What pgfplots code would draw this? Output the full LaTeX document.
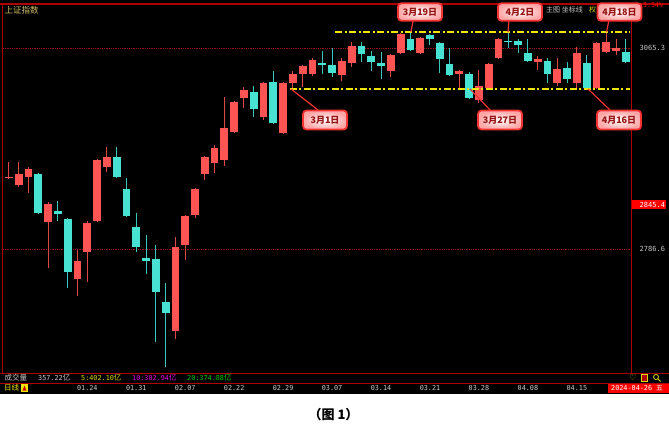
\documentclass[border=0pt]{standalone}
\usepackage{pgfplots}
\pgfplotsset{compat=1.18}
\usepackage{pgfplotstable}
\usepackage{fontspec}
\setmainfont{Noto Sans CJK SC}
\newfontfamily\cjk{Noto Sans CJK SC}
\newfontfamily\mono{DejaVu Sans Mono}
\newfontfamily\dejavu{DejaVu Sans}

\definecolor{upc}{RGB}{255,84,84}
\definecolor{dnc}{RGB}{72,226,210}
\definecolor{upw}{RGB}{225,70,70}
\definecolor{dnw}{RGB}{55,200,185}
\definecolor{framec}{RGB}{175,0,0}
\definecolor{gridc}{RGB}{150,20,20}
\definecolor{lab}{RGB}{200,200,200}
\definecolor{ylw}{RGB}{240,230,0}
\definecolor{ylw2}{RGB}{215,215,0}
\definecolor{mag}{RGB}{225,0,225}
\definecolor{grn}{RGB}{0,200,0}
\definecolor{callbd}{RGB}{245,50,50}
\definecolor{calltx}{RGB}{150,20,20}
\definecolor{gold}{RGB}{210,190,100}

% i = trading day (1 = 2024-01-12), o h l c = open high low close
\pgfplotstableread{
i o h l c
1 2884.4 2907.3 2883.7 2885.8
2 2875.4 2907.3 2872.6 2890.6
3 2886.5 2900.3 2864.3 2897.6
5 2824.1 2851.8 2760.3 2849.0
8 2745.0 2785.3 2721.5 2770.0
9 2782.5 2825.5 2740.9 2822.7
10 2825.5 2911.4 2824.1 2910.0
11 2900.3 2928.1 2893.4 2914.2
18 2672.9 2803.3 2661.8 2789.4
19 2792.2 2833.8 2771.4 2832.4
20 2833.8 2871.2 2829.6 2869.8
21 2890.6 2915.6 2882.3 2914.2
22 2905.9 2930.8 2892.0 2926.7
23 2910.0 2997.4 2901.7 2954.4
24 2948.9 2991.9 2947.5 2990.5
25 2996.0 3011.3 2982.1 3007.1
27 2969.7 3018.2 2965.5 3016.8
29 2947.5 3018.2 2946.1 3016.8
30 3016.8 3033.5 3008.5 3029.3
31 3029.3 3041.8 3011.3 3040.4
32 3029.3 3051.5 3026.5 3048.7
35 3027.9 3051.5 3019.6 3047.3
36 3044.5 3073.7 3039.0 3068.1
40 3033.5 3056.5 3025.1 3055.6
41 3058.4 3086.0 3057.0 3084.7
43 3058.4 3080.6 3057.0 3079.2
47 3029.3 3034.5 3007.1 3033.5
49 2993.2 3034.8 2989.1 3012.7
50 3009.9 3044.5 3008.5 3043.2
51 3051.5 3079.2 3050.1 3077.8
55 3045.9 3054.3 3034.8 3050.1
57 3016.8 3051.5 3012.7 3036.2
59 3016.8 3066.7 3007.1 3058.4
61 3009.9 3073.0 3009.0 3072.3
62 3059.8 3087.5 3058.4 3073.7
63 3061.2 3077.8 3055.6 3065.3
}\uptab

\pgfplotstableread{
i o h l c
4 2890.6 2891.5 2835.2 2836.6
6 2839.3 2853.2 2825.5 2835.2
7 2828.2 2829.6 2732.6 2754.7
12 2914.2 2928.1 2885.1 2886.5
13 2869.8 2885.1 2831.0 2832.4
14 2817.1 2836.6 2782.5 2789.4
15 2774.2 2806.1 2752.0 2770.0
16 2772.8 2792.2 2657.7 2727.0
17 2713.2 2739.5 2623.0 2697.9
26 3004.3 3012.7 2969.7 2980.8
28 3018.2 3033.5 2960.0 2961.4
33 3044.5 3061.2 3029.3 3041.8
34 3041.8 3065.3 3025.1 3030.7
37 3068.1 3073.7 3045.9 3057.0
38 3054.3 3061.2 3033.5 3045.9
39 3044.5 3059.8 3022.4 3040.4
42 3077.8 3087.5 3061.2 3062.6
44 3083.4 3084.7 3069.5 3077.8
45 3072.3 3073.7 3030.7 3050.1
46 3043.2 3065.3 3026.5 3027.9
48 3029.3 3032.1 2994.6 2996.0
52 3075.7 3087.5 3065.3 3074.3
53 3075.0 3077.8 3058.4 3069.5
54 3058.4 3077.8 3046.0 3047.3
56 3047.3 3051.5 3016.8 3029.3
58 3037.6 3045.9 3016.8 3022.4
60 3044.5 3055.6 3007.1 3009.9
64 3059.8 3077.8 3044.5 3045.9
}\dntab

\begin{document}
\begin{tikzpicture}
\fill[white] (0pt,0pt) rectangle (669pt,437pt);
\fill[black] (0pt,43.5pt) rectangle (669pt,437pt);

\begin{axis}[
  at={(3pt,64pt)}, anchor=south west,
  scale only axis, width=628pt, height=369pt,
  xmin=0.39, xmax=64.53, ymin=2614.7, ymax=3126.35,
  axis line style={draw=none},
  ytick=\empty,
  xtick={9,14,19,24,29,34,39,44,49,54,59},
  xticklabels={01.24,01.31,02.07,02.22,02.29,03.07,03.14,03.21,03.28,04.08,04.15},
  major tick length=0pt,
  xticklabel style={font=\mono\fontsize{6.8}{7}\selectfont, text=lab, anchor=center, yshift=-15pt, inner sep=0pt},
  clip=true,
]
% dotted grid lines
\addplot[forget plot, gridc, densely dotted, line width=0.8pt] coordinates {(0.39,3065.3) (64.53,3065.3)};
\addplot[forget plot, gridc, densely dotted, line width=0.8pt] coordinates {(0.39,2786.6) (64.53,2786.6)};
% wicks
\addplot[forget plot, draw=none, mark=none, error bars/.cd, y dir=plus, y explicit, error mark=none,
  error bar style={line width=1pt, draw=upw, solid}]
  table[x=i, y=l, y error plus expr=\thisrow{h}-\thisrow{l}] {\uptab};
\addplot[forget plot, draw=none, mark=none, error bars/.cd, y dir=plus, y explicit, error mark=none,
  error bar style={line width=1pt, draw=dnw, solid}]
  table[x=i, y=l, y error plus expr=\thisrow{h}-\thisrow{l}] {\dntab};
% bodies
\addplot[forget plot, draw=none, mark=none, error bars/.cd, y dir=plus, y explicit, error mark=none,
  error bar style={line width=7.8pt, draw=upc, solid}]
  table[x=i, y=o, y error plus expr=\thisrow{c}-\thisrow{o}] {\uptab};
\addplot[forget plot, draw=none, mark=none, error bars/.cd, y dir=plus, y explicit, error mark=none,
  error bar style={line width=7.8pt, draw=dnc, solid}]
  table[x=i, y=c, y error plus expr=\thisrow{o}-\thisrow{c}] {\dntab};
% yellow resistance / support lines
\addplot[forget plot, ylw, line width=1.6pt, dash pattern=on 7pt off 2.5pt on 2pt off 2.5pt]
  coordinates {(34.3,3087.8) (64.4,3087.8)};
\addplot[forget plot, ylw, line width=1.6pt, dash pattern=on 7pt off 2.5pt on 2pt off 2.5pt]
  coordinates {(29.7,3008.3) (64.4,3008.3)};
\end{axis}

\begin{scope}[x=1pt,y=1pt]
% frame lines
\draw[framec, line width=1.3pt] (0,433) -- (669,433);
\draw[framec, line width=1pt] (2.5,433) -- (2.5,64);
\draw[framec, line width=1pt] (631,433) -- (631,64);
\draw[framec, line width=1pt] (0,64) -- (669,64);
\draw[framec, line width=1pt] (0,54) -- (669,54);

% header texts
\node[anchor=west, text=gold, font=\cjk\fontsize{8.5}{9}\selectfont, inner sep=0pt] at (4.5,427) {上证指数};
\node[anchor=west, text=lab, font=\cjk\fontsize{7}{8}\selectfont, inner sep=0pt] at (546,427) {主图 坐标线};
\node[anchor=west, text=ylw2, font=\cjk\fontsize{7}{8}\selectfont, inner sep=0pt] at (589,427) {权};
\node[anchor=west, text=red, font=\mono\fontsize{6.5}{7}\selectfont, inner sep=0pt] at (643,431.5) {3.54\%};

% right price labels
\node[anchor=west, text=lab, font=\mono\fontsize{7}{7}\selectfont, inner sep=0pt] at (639.5,389) {3065.3};
\fill[red] (631.5,227.5) rectangle (666,236.5);
\node[anchor=west, text=white, font=\mono\fontsize{7}{7}\selectfont, inner sep=0pt] at (639.5,232) {2845.4};
\node[anchor=west, text=lab, font=\mono\fontsize{7}{7}\selectfont, inner sep=0pt] at (639.5,188) {2786.6};

% volume row
\node[anchor=west, text=lab, font=\cjk\fontsize{7.5}{8}\selectfont, inner sep=0pt] at (4.5,59) {成交量};
\node[anchor=west, text=lab, inner sep=0pt] at (38,59) {\mono\fontsize{6.8}{8}\selectfont 357.22\cjk\fontsize{7.5}{8}\selectfont 亿};
\node[anchor=west, text=ylw2, inner sep=0pt] at (81,59) {\mono\fontsize{6.8}{8}\selectfont 5:402.10\cjk\fontsize{7.5}{8}\selectfont 亿};
\node[anchor=west, text=mag, inner sep=0pt] at (132,59) {\mono\fontsize{6.8}{8}\selectfont 10:382.94\cjk\fontsize{7.5}{8}\selectfont 亿};
\node[anchor=west, text=grn, inner sep=0pt] at (187,59) {\mono\fontsize{6.8}{8}\selectfont 20:374.88\cjk\fontsize{7.5}{8}\selectfont 亿};
% small icons
\node[anchor=center, text=ylw2, font=\dejavu\fontsize{8}{8}\selectfont, inner sep=0pt] at (633,59) {♡};
\draw[ylw2, line width=0.7pt, fill=red!70!black] (641,55.5) rectangle (647,62.5);
\draw[ylw2, line width=0.8pt] (656,60) circle (2.5);
\draw[ylw2, line width=1pt] (657.8,58.2) -- (660.5,55.5);

% date row
\node[anchor=west, text=ylw, font=\cjk\fontsize{7.5}{8}\selectfont, inner sep=0pt] at (4,49) {日线};
\fill[ylw] (21,45) rectangle (28,53);
\fill[red!80!black] (22.5,46.5) -- (26.5,46.5) -- (24.5,51.5) -- cycle;
\fill[red] (608,44) rectangle (669,53.5);
\node[anchor=west, text=white, inner sep=0pt] at (611,49) {\mono\fontsize{6.8}{8}\selectfont 2024-04-26 \cjk 五};

% callout pointers
\begin{scope}[callbd, line width=1.2pt]
\draw (411,405.3) -- (413,416);
\draw (508,405) -- (509,417);
\draw (606.5,405) -- (609,417);
\draw (291,348) -- (318,327);
\draw (470,348) -- (490,327);
\draw (588,348) -- (610,327);
\end{scope}
\tikzset{callout/.style={draw=callbd, line width=1.8pt, rounded corners=3.5pt,
  inner color=white, outer color={rgb,255:red,255;green,165;blue,165},
  minimum width=44pt, minimum height=17.5pt, inner sep=0pt,
  font=\cjk\bfseries\fontsize{9}{9}\selectfont, text=calltx}}
\node[callout] at (420,425) {3月19日};
\node[callout] at (520,425) {4月2日};
\node[callout] at (619.5,425) {4月18日};
\node[callout, minimum height=19pt] at (325,317) {3月1日};
\node[callout, minimum height=19pt] at (500,317) {3月27日};
\node[callout, minimum height=19pt] at (619,317) {4月16日};

% caption
\node[anchor=center, text=black, font=\cjk\bfseries\fontsize{13}{14}\selectfont, inner sep=0pt] at (333.5,22) {（图 1）};
\end{scope}

\pgfresetboundingbox
\path[use as bounding box] (0pt,0pt) rectangle (669pt,437pt);
\end{tikzpicture}
\end{document}
